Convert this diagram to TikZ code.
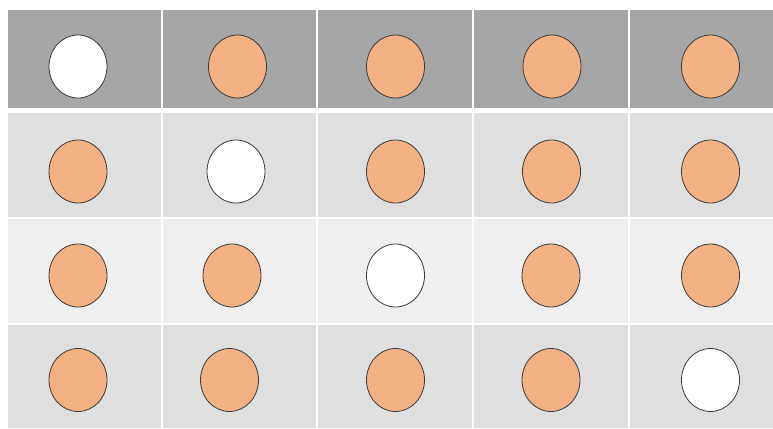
\documentclass[tikz,border=0pt]{standalone}
\usetikzlibrary{shapes.geometric}
\definecolor{hdr}{HTML}{A6A6A6}
\definecolor{rowa}{HTML}{DFDFDF}
\definecolor{rowb}{HTML}{EFEFEF}
\definecolor{dot}{HTML}{F4B183}
\definecolor{rim}{HTML}{3A3A3A}
\tikzset{
  token/.style={ellipse, draw=rim, line width=0.8pt, minimum width=58pt, minimum height=63pt, inner sep=0pt},
  full/.style={token, fill=dot},
  empty/.style={token, fill=white},
}
\begin{document}
\begin{tikzpicture}[x=1pt,y=-1pt]
\useasboundingbox (0,0) rectangle (773,428);
\fill[white] (0,0) rectangle (773,428);
% cells
\foreach \ya/\yb/\c in {10/108/hdr,113/217/rowa,219/323/rowb,325/428/rowa}{
  \foreach \xa/\xb in {8/161,163/316,318/472,474/628,630/773}{
    \fill[\c] (\xa,\ya) rectangle (\xb,\yb);
  }
}
% row 1
\node[empty] (t11) at (78,66.5) {};
\node[full]  (t12) at (237.5,66.5) {};
\node[full]  (t13) at (395.5,66.5) {};
\node[full]  (t14) at (552,66.5) {};
\node[full]  (t15) at (710.5,66.5) {};
% row 2
\node[full]  (t21) at (78,171.5) {};
\node[empty] (t22) at (236,171.5) {};
\node[full]  (t23) at (395.5,171.5) {};
\node[full]  (t24) at (551.5,171.5) {};
\node[full]  (t25) at (710.5,171.5) {};
% row 3
\node[full]  (t31) at (78,275.5) {};
\node[full]  (t32) at (232,275.5) {};
\node[empty] (t33) at (395.5,275.5) {};
\node[full]  (t34) at (551,275.5) {};
\node[full]  (t35) at (710.5,275.5) {};
% row 4
\node[full]  (t41) at (78,380) {};
\node[full]  (t42) at (229.5,380) {};
\node[full]  (t43) at (395.5,380) {};
\node[full]  (t44) at (551,380) {};
\node[empty] (t45) at (710.5,380) {};
\end{tikzpicture}
\end{document}
